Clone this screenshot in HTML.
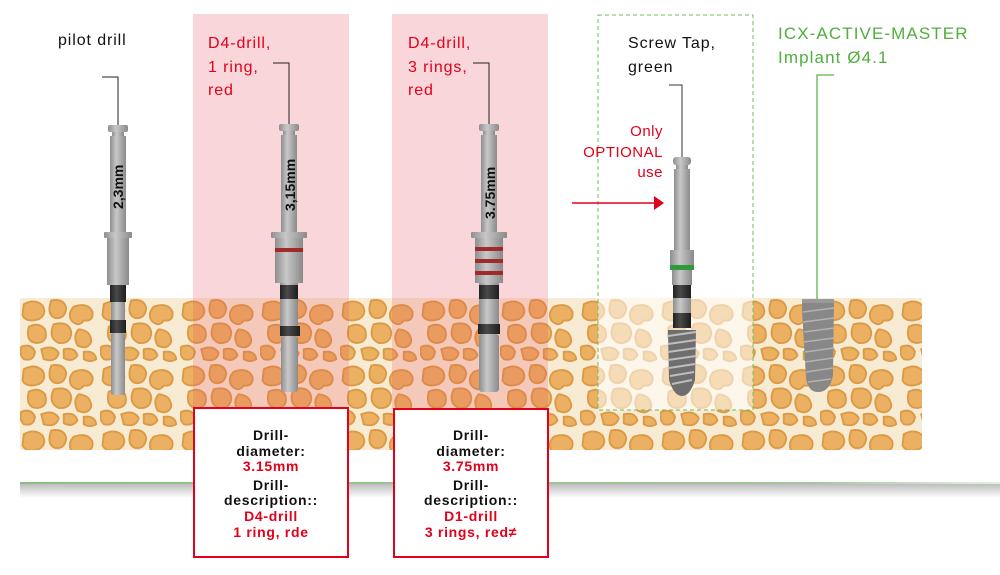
<!DOCTYPE html>
<html><head><meta charset="utf-8"><style>
html,body{margin:0;padding:0;background:#fff;}
svg{display:block;}
.t{font-family:"Liberation Sans",sans-serif;}
</style></head><body>
<svg width="1000" height="575" viewBox="0 0 1000 575" xmlns="http://www.w3.org/2000/svg">
<defs>
<pattern id="bone" width="64" height="52" patternUnits="userSpaceOnUse" patternTransform="translate(20,298) scale(1.25)">
<rect width="64" height="52" fill="#f8ebd3"/>
<g fill="#ebb061" stroke="#dc9a45" stroke-width="1.5">
<path d="M3 5 q9 -5 15 1 q4 7 -3 11 q-10 3 -13 -3z"/>
<path d="M25 2 q10 -2 12 6 q-1 9 -9 8 q-7 -3 -3 -14z"/>
<path d="M43 7 q11 -4 15 4 q1 8 -7 7 q-4 6 -10 0 q-3 -6 2 -11z"/>
<path d="M7 23 q8 -4 13 2 q3 10 -6 11 q-10 0 -7 -13z"/>
<path d="M27 21 q12 -3 14 6 q0 10 -10 9 q-9 -4 -4 -15z"/>
<path d="M47 25 q10 1 10 10 q-3 7 -11 3 q-4 -8 1 -13z"/>
<path d="M1 39 q8 -3 11 4 q-1 8 -9 6 q-4 -4 -2 -10z"/>
<path d="M17 41 q10 -4 14 3 q-2 8 -12 5z"/>
<path d="M35 41 q9 -2 11 5 q-4 6 -11 2z"/>
<path d="M51 43 q9 -1 10 6 q-5 3 -10 0z"/>
</g>
</pattern>
<linearGradient id="sh" x1="0" y1="0" x2="0" y2="1">
<stop offset="0" stop-color="#bdbdbd"/><stop offset="1" stop-color="#fff"/>
</linearGradient>
<linearGradient id="gl" x1="0" y1="0" x2="1" y2="0">
<stop offset="0" stop-color="#8cbf84"/><stop offset="0.8" stop-color="#9ec897"/><stop offset="1" stop-color="#e4f0e2"/>
</linearGradient>
<linearGradient id="met" x1="0" y1="0" x2="1" y2="0">
<stop offset="0" stop-color="#8e8e8e"/><stop offset="0.4" stop-color="#c8c8c8"/><stop offset="1" stop-color="#8a8a8a"/>
</linearGradient>
<linearGradient id="blk" x1="0" y1="0" x2="1" y2="0">
<stop offset="0" stop-color="#222"/><stop offset="0.4" stop-color="#4a4a4a"/><stop offset="1" stop-color="#1e1e1e"/>
</linearGradient>
</defs>

<rect x="20" y="484" width="980" height="14" fill="url(#sh)"/>
<rect x="20" y="482" width="980" height="2" fill="url(#gl)"/>

<rect x="193" y="14" width="156" height="396" fill="#f9d6da"/>
<rect x="392" y="14" width="156" height="396" fill="#f9d6da"/>

<rect x="20" y="298" width="902" height="152" fill="url(#bone)"/>
<rect x="193" y="298" width="156" height="112" fill="#e8505e" opacity="0.22"/>
<rect x="392" y="298" width="156" height="112" fill="#e8505e" opacity="0.22"/>
<rect x="598" y="298" width="155" height="112" fill="#fff" opacity="0.55"/>

<rect x="598" y="15" width="155" height="395" fill="none" stroke="#6cbf5c" stroke-width="1" stroke-dasharray="4,3"/>

<polyline points="102,77 118,77 118,125" fill="none" stroke="#222" stroke-width="1"/>
<polyline points="273,63 289,63 289,125" fill="none" stroke="#222" stroke-width="1"/>
<polyline points="473,63 489,63 489,125" fill="none" stroke="#222" stroke-width="1"/>
<polyline points="669,85 682,85 682,158" fill="none" stroke="#333" stroke-width="1"/>
<polyline points="834,75 817,75 817,300" fill="none" stroke="#5db54a" stroke-width="1.3"/>

<g>
<rect x="108" y="125" width="20" height="7" rx="2" fill="url(#met)"/>
<rect x="112" y="132" width="12" height="4" fill="url(#met)"/>
<rect x="110" y="136" width="16" height="96" fill="url(#met)"/>
<rect x="104" y="232" width="28" height="6" rx="1" fill="url(#met)"/>
<rect x="107" y="238" width="22" height="47" fill="url(#met)"/>
<rect x="110" y="285" width="16" height="17" fill="url(#blk)"/>
<rect x="111" y="302" width="14" height="18" fill="url(#met)"/>
<rect x="110" y="320" width="16" height="13" fill="url(#blk)"/>
<rect x="111" y="333" width="14" height="62" rx="2" fill="url(#met)"/>
<text class="t" transform="translate(123,209) rotate(-90)" font-size="14" font-weight="bold" fill="#111">2,3mm</text>
</g>
<g>
<rect x="279" y="124" width="20" height="7" rx="2" fill="url(#met)"/>
<rect x="283" y="131" width="12" height="4" fill="url(#met)"/>
<rect x="281" y="135" width="16" height="97" fill="url(#met)"/>
<rect x="271" y="232" width="36" height="6" rx="1" fill="url(#met)"/>
<rect x="275" y="238" width="28" height="45" fill="url(#met)"/>
<rect x="275" y="248" width="28" height="4" fill="#a02a2a"/>
<rect x="280" y="283" width="18" height="44" fill="url(#met)"/>
<rect x="280" y="285" width="18" height="14" fill="url(#blk)"/>
<rect x="280" y="326" width="20" height="10" fill="url(#blk)"/>
<rect x="281" y="336" width="17" height="56" rx="3" fill="url(#met)"/>
<text class="t" transform="translate(295,211) rotate(-90)" font-size="14" font-weight="bold" fill="#111">3,15mm</text>
</g>
<g>
<rect x="479" y="124" width="20" height="7" rx="2" fill="url(#met)"/>
<rect x="483" y="131" width="12" height="4" fill="url(#met)"/>
<rect x="481" y="135" width="16" height="97" fill="url(#met)"/>
<rect x="471" y="232" width="36" height="6" rx="1" fill="url(#met)"/>
<rect x="475" y="238" width="28" height="45" fill="url(#met)"/>
<rect x="475" y="247" width="28" height="4" fill="#a02a2a"/>
<rect x="475" y="259" width="28" height="4" fill="#a02a2a"/>
<rect x="475" y="271" width="28" height="4" fill="#a02a2a"/>
<rect x="479" y="283" width="20" height="44" fill="url(#met)"/>
<rect x="479" y="285" width="20" height="14" fill="url(#blk)"/>
<rect x="478" y="324" width="22" height="10" fill="url(#blk)"/>
<rect x="479" y="334" width="20" height="58" rx="3" fill="url(#met)"/>
<text class="t" transform="translate(495,219) rotate(-90)" font-size="14" font-weight="bold" fill="#111">3.75mm</text>
</g>
<g>
<rect x="673" y="157" width="18" height="8" rx="3" fill="url(#met)"/>
<rect x="676" y="165" width="12" height="4" fill="url(#met)"/>
<rect x="674" y="169" width="16" height="81" fill="url(#met)"/>
<rect x="670" y="250" width="24" height="15" fill="url(#met)"/>
<rect x="670" y="265" width="24" height="5" fill="#2e9a3a"/>
<rect x="672" y="270" width="20" height="15" fill="url(#met)"/>
<rect x="673" y="285" width="18" height="13" fill="url(#blk)"/>
<rect x="673" y="298" width="18" height="15" fill="url(#met)"/>
<rect x="673" y="313" width="18" height="15" fill="url(#blk)"/>
<path d="M668 330 L696 330 L695 380 Q690 396 682 396 Q674 396 669 380 Z" fill="#6e6e6e"/>
<g stroke="#bdbdbd" stroke-width="2">
<line x1="668" y1="336" x2="696" y2="332"/><line x1="668" y1="344" x2="696" y2="340"/>
<line x1="668" y1="352" x2="696" y2="348"/><line x1="668" y1="360" x2="696" y2="356"/>
<line x1="669" y1="368" x2="695" y2="364"/><line x1="670" y1="376" x2="694" y2="372"/>
<line x1="672" y1="384" x2="692" y2="380"/>
</g>
</g>
<g>
<path d="M802 299 L834 299 L833 375 Q830 392 818 392 Q808 392 806 378 L802 310 Z" fill="#888"/>
<rect x="802" y="299" width="32" height="4" fill="#9a9a9a"/>
<g stroke="#b3b3b3" stroke-width="1.5">
<line x1="803" y1="312" x2="834" y2="308"/><line x1="803" y1="322" x2="834" y2="318"/>
<line x1="804" y1="332" x2="834" y2="328"/><line x1="804" y1="342" x2="834" y2="338"/>
<line x1="805" y1="352" x2="834" y2="348"/><line x1="805" y1="362" x2="833" y2="358"/>
<line x1="806" y1="372" x2="833" y2="368"/><line x1="808" y1="382" x2="831" y2="379"/>
</g>
</g>

<line x1="572" y1="203" x2="655" y2="203" stroke="#e2001a" stroke-width="1.5"/>
<path d="M654 196 L664 203 L654 210 Z" fill="#e2001a"/>

<g class="t" font-size="16" letter-spacing="0.9">
<text x="58" y="45" fill="#111">pilot drill</text>
<text x="208" y="48" fill="#e2001a">D4-drill,</text>
<text x="208" y="72" fill="#e2001a">1 ring,</text>
<text x="208" y="95" fill="#e2001a">red</text>
<text x="408" y="48" fill="#e2001a">D4-drill,</text>
<text x="408" y="72" fill="#e2001a">3 rings,</text>
<text x="408" y="95" fill="#e2001a">red</text>
<text x="628" y="48" fill="#111">Screw Tap,</text>
<text x="628" y="72" fill="#111">green</text>
<g fill="#e2001a" font-size="15" text-anchor="end" letter-spacing="0.5">
<text x="663" y="136">Only</text>
<text x="663" y="157">OPTIONAL</text>
<text x="663" y="177">use</text>
</g>
<text x="778" y="39" fill="#4fae3c" font-size="17" letter-spacing="1.1">ICX-ACTIVE-MASTER</text>
<text x="778" y="63" fill="#4fae3c" font-size="17" letter-spacing="1.1">Implant Ø4.1</text>
</g>

<rect x="194" y="408" width="154" height="149" fill="#fff" stroke="#e2001a" stroke-width="2"/>
<rect x="394" y="409" width="154" height="148" fill="#fff" stroke="#e2001a" stroke-width="2"/>
<g class="t" font-size="14" font-weight="bold" text-anchor="middle" letter-spacing="0.7">
<text x="271" y="440" fill="#111">Drill-</text>
<text x="271" y="456" fill="#111">diameter:</text>
<text x="271" y="471" fill="#e2001a">3.15mm</text>
<text x="271" y="490" fill="#111">Drill-</text>
<text x="271" y="505" fill="#111">description::</text>
<text x="271" y="521" fill="#e2001a">D4-drill</text>
<text x="271" y="537" fill="#e2001a">1 ring, rde</text>
<text x="471" y="440" fill="#111">Drill-</text>
<text x="471" y="456" fill="#111">diameter:</text>
<text x="471" y="471" fill="#e2001a">3.75mm</text>
<text x="471" y="490" fill="#111">Drill-</text>
<text x="471" y="505" fill="#111">description::</text>
<text x="471" y="521" fill="#e2001a">D1-drill</text>
<text x="471" y="537" fill="#e2001a">3 rings, red≠</text>
</g>
</svg>
</body></html>
